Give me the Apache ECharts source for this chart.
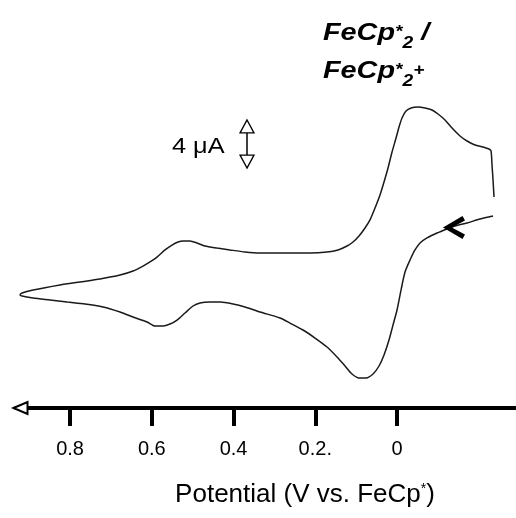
<!DOCTYPE html>
<html>
<head>
<meta charset="utf-8">
<script src="https://cdn.jsdelivr.net/npm/echarts@6/dist/echarts.min.js"></script>
<style>html,body{margin:0;padding:0;background:#fff}#c{width:516px;height:518px}</style>
</head>
<body>
<div id="c"></div>
<script>
// Potential (V vs. FeCp*) and current (µA) along the scan, in scan order
var potentialV = [
 -0.2349,-0.2031,-0.1713,-0.1419,-0.1223,-0.0979,-0.0734,-0.0563,-0.0440,-0.0318,
 -0.0196,-0.0098,0.0000,0.0098,0.0196,0.0318,0.0440,0.0587,0.0758,0.0930,
 0.1101,0.1272,0.1468,0.1713,0.2006,0.2300,0.2618,0.2862,0.3352,0.3719,
 0.4012,0.4330,0.4575,0.4820,0.4991,0.5187,0.5382,0.5554,0.5725,0.5920,
 0.6116,0.6459,0.6777,0.7193,0.7633,0.8073,0.8489,0.8905,0.9174,0.9223,
 0.9174,0.8905,0.8245,0.7755,0.7266,0.6777,0.6459,0.6214,0.6043,0.5872,
 0.5676,0.5505,0.5358,0.5235,0.5064,0.4893,0.4697,0.4404,0.4086,0.3719,
 0.3352,0.2618,0.2128,0.1713,0.1443,0.1223,0.1076,0.0930,0.0783,0.0661,
 0.0538,0.0416,0.0318,0.0220,0.0122,0.0024,-0.0049,-0.0122,-0.0220,-0.0343,
 -0.0514,-0.0685,-0.0856,-0.1003,-0.1174,-0.1346,-0.1541,-0.1713,-0.1908,-0.2104,
 -0.2251,-0.2300,-0.2324,-0.2349,-0.2373
];
var currentUA = [
 7.00,6.75,6.42,6.17,5.92,5.58,5.17,4.75,4.17,3.33,
 2.33,0.83,-0.83,-2.08,-3.33,-4.58,-5.50,-6.17,-6.50,-6.50,
 -6.17,-5.50,-4.75,-3.92,-3.17,-2.50,-1.92,-1.50,-1.00,-0.58,
 -0.33,-0.17,-0.17,-0.25,-0.50,-1.08,-1.67,-2.00,-2.17,-2.17,
 -1.83,-1.42,-1.00,-0.58,-0.33,-0.17,0.00,0.17,0.33,0.42,
 0.58,0.83,1.25,1.50,1.75,2.08,2.42,2.83,3.17,3.58,
 4.17,4.58,4.83,4.92,4.92,4.75,4.50,4.33,4.17,4.00,
 3.92,3.92,3.92,4.00,4.17,4.50,4.83,5.33,6.00,6.67,
 7.67,8.75,9.83,11.00,12.33,13.50,14.42,15.17,15.75,16.00,
 16.08,16.00,15.83,15.50,15.00,14.33,13.67,13.25,12.92,12.75,
 12.58,12.42,11.25,10.00,8.58
];
var tickValues = [0, 0.2, 0.4, 0.6, 0.8];
var tickLabels = ['0', '0.2.', '0.4', '0.6', '0.8'];
var xRange = [-0.2911, 0.9322];
var yRange = [-9, 25];
var scanArrow = [-0.1394, 6.04];          // direction chevron (V, µA)
var scaleBarV = 0.367;                     // scale bar position (V)
var scaleBarUA = [11.0, 15.0];             // 4 µA scale bar, tip to tip
var scaleHeadsUA = [11.54, 14.46];         // arrow-head centres
var scaleShaftUA = [12.08, 13.92];

var FONT = 'Liberation Sans, Arial, Helvetica, sans-serif';
var data = potentialV.map(function (v, i) { return [v, currentUA[i]]; });

var chart = echarts.init(document.getElementById('c'));
chart.setOption({
  animation: false,
  backgroundColor: '#fff',
  grid: { left: 16, right: 0, top: 0, bottom: 110 },
  xAxis: {
    type: 'value', inverse: true, min: xRange[0], max: xRange[1],
    splitLine: { show: false },
    axisLine: {
      show: true, onZero: false,
      lineStyle: { color: '#000', width: 4 },
      symbol: ['emptyTriangle', 'none'],
      symbolSize: [12, 14],
      symbolOffset: [4.5, 0]
    },
    axisTick: { show: true, length: 18, customValues: tickValues, lineStyle: { color: '#000', width: 4 } },
    axisLabel: {
      customValues: tickValues, margin: 31, fontSize: 20, color: '#000', fontFamily: FONT,
      formatter: function (v) {
        for (var i = 0; i < tickValues.length; i++) { if (Math.abs(v - tickValues[i]) < 1e-6) return tickLabels[i]; }
        return '';
      }
    },
    name: 'Potential (V vs. FeCp{sup|*})',
    nameLocation: 'middle', nameGap: 74,
    nameTextStyle: {
      fontSize: 26, color: '#000', fontFamily: FONT, lineHeight: 26, padding: [0, 0, 0, 78],
      rich: { sup: { fontSize: 14, lineHeight: 20, verticalAlign: 'top', fontFamily: FONT, color: '#000' } }
    }
  },
  yAxis: { type: 'value', show: false, min: yRange[0], max: yRange[1], splitLine: { show: false } },
  series: [{
    type: 'line', data: data, showSymbol: false, smooth: 0.25, clip: false, silent: true,
    lineStyle: { color: '#1a1a1a', width: 1.5 },
    markLine: {
      silent: true, symbol: 'none', label: { show: false },
      lineStyle: { color: '#000', width: 1.5, type: 'solid' },
      data: [[{ coord: [scaleBarV, scaleShaftUA[0]] }, { coord: [scaleBarV, scaleShaftUA[1]] }]]
    },
    markPoint: {
      silent: true, label: { show: false },
      data: [
        { coord: scanArrow, symbol: 'path://M0,115 L188,0 L212,44 L85,115 L212,186 L188,230 Z', symbolSize: [22, 23], itemStyle: { color: '#000' } },
        { coord: [scaleBarV, scaleHeadsUA[1]], symbol: 'triangle', symbolSize: [14, 13], itemStyle: { color: '#fff', borderColor: '#000', borderWidth: 1.3 } },
        { coord: [scaleBarV, scaleHeadsUA[0]], symbol: 'triangle', symbolRotate: 180, symbolSize: [14, 13], itemStyle: { color: '#fff', borderColor: '#000', borderWidth: 1.3 } }
      ]
    }
  }],
  graphic: [
    {
      type: 'text', left: 323, top: 14, scaleX: 1.2,
      style: {
        text: '{b|FeCp}{sup|*}{sub|2}{b| /}\n{b|FeCp}{sup|*}{sub|2}{sup|+}',
        fill: '#000',
        rich: {
          b: { fontSize: 24, fontWeight: 'bold', fontStyle: 'italic', fontFamily: FONT, lineHeight: 38, fill: '#000' },
          sup: { fontSize: 16, fontWeight: 'bold', fontStyle: 'italic', fontFamily: FONT, lineHeight: 32, verticalAlign: 'top', padding: [11, 0, 0, 0], fill: '#000' },
          sub: { fontSize: 16, fontWeight: 'bold', fontStyle: 'italic', fontFamily: FONT, lineHeight: 18, verticalAlign: 'bottom', fill: '#000' }
        }
      }
    },
    {
      type: 'text', left: 172, top: 136, scaleX: 1.15,
      style: { text: '4 μA', fontSize: 22, fontFamily: FONT, fill: '#000' }
    }
  ]
});
</script>
</body>
</html>
